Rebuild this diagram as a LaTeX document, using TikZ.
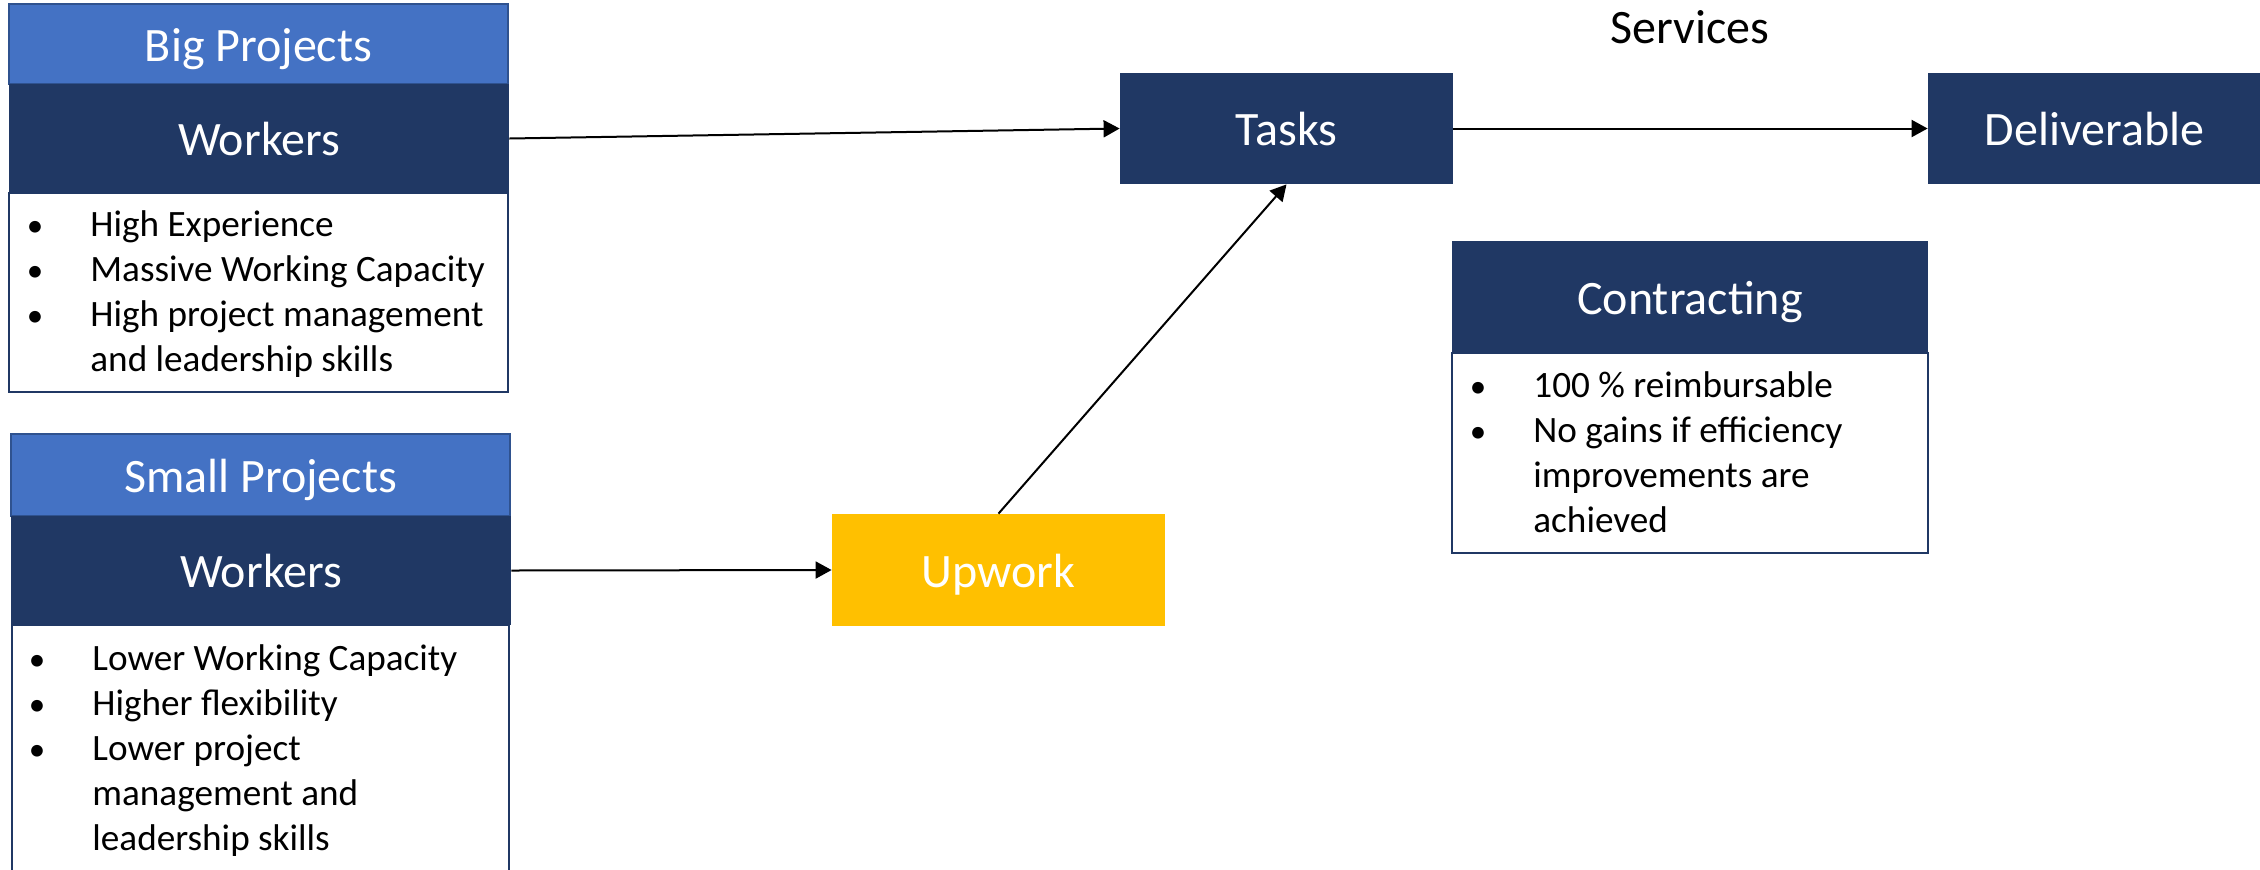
\documentclass[tikz,border=0pt]{standalone}
\usepackage{fontspec}
\setmainfont{Carlito}
\usetikzlibrary{arrows.meta}
\definecolor{lblue}{HTML}{4472C4}
\definecolor{lblueb}{HTML}{2F528F}
\definecolor{navy}{HTML}{203864}
\definecolor{gold}{HTML}{FFC000}
\tikzset{
  capc/.style={text height=17.2pt, text depth=0pt},
  headbox/.style={rectangle, fill=lblue, draw=lblueb, line width=0.6pt, inner sep=0pt, text=white, font=\fontsize{24}{28}\selectfont, capc},
  navybox/.style={rectangle, fill=navy, inner sep=0pt, text=white, font=\fontsize{24}{28}\selectfont, capc},
  goldbox/.style={rectangle, fill=gold, inner sep=0pt, text=white, font=\fontsize{24}{28}\selectfont, capc},
  listbox/.style={rectangle, fill=white, draw=navy, line width=0.7pt, inner sep=0pt},
  btxt/.style={anchor=base west, inner sep=0pt, font=\fontsize{18.6}{22}\selectfont},
  bdot/.style={anchor=base, inner sep=0pt, font=\fontsize{16.5}{22}\selectfont},
  conn/.style={line width=1pt, -{Triangle[length=8pt,width=8.5pt]}},
}
\begin{document}
\begin{tikzpicture}[x=0.5pt,y=-0.5pt]
\useasboundingbox (0,0) rectangle (2260,869);
\clip (0,0) rectangle (2260,869);
% Big projects group
\node[listbox, minimum width=249.5pt, minimum height=99.5pt] (bl) at (258.5,292.5) {};
\node[headbox, minimum width=249.5pt, minimum height=40pt] (bp) at (258.5,44) {Big Projects};
\node[navybox, minimum width=250pt, minimum height=54.5pt] (bw) at (259,138.5) {Workers};
\node[bdot] (b1d) at (35,236) {•};
\node[btxt] (b1) at (90,236) {High Experience};
\node[bdot] (b2d) at (35,281) {•};
\node[btxt] (b2) at (90,281) {Massive Working Capacity};
\node[bdot] (b3d) at (35,326) {•};
\node[btxt] (b3) at (90,326) {High project management};
\node[btxt] (b4) at (90,371) {and leadership skills};
% Small projects group
\node[listbox, minimum width=248.5pt, minimum height=140pt] (sl) at (260.5,765) {};
\node[headbox, minimum width=249.5pt, minimum height=41pt] (sp) at (260.5,475) {Small Projects};
\node[navybox, minimum width=250pt, minimum height=54.5pt] (sw) at (261,570.5) {Workers};
\node[bdot] (s1d) at (37,670) {•};
\node[btxt] (s1) at (92,670) {Lower Working Capacity};
\node[bdot] (s2d) at (37,715) {•};
\node[btxt] (s2) at (92,715) {Higher flexibility};
\node[bdot] (s3d) at (37,760) {•};
\node[btxt] (s3) at (92,760) {Lower project};
\node[btxt] (s4) at (92,805) {management and};
\node[btxt] (s5) at (92,850) {leadership skills};
% Upwork
\node[goldbox, minimum width=166.5pt, minimum height=56pt] (up) at (998.5,570) {Upwork};
% Tasks, deliverable
\node[navybox, minimum width=166.5pt, minimum height=55.5pt] (tasks) at (1286.5,128.5) {Tasks};
\node[navybox, minimum width=166.5pt, minimum height=55.5pt] (del) at (2094.5,128.5) {Deliverable};
\node[anchor=base, inner sep=0pt, font=\fontsize{24}{28}\selectfont] (serv) at (1690,43) {Services};
% Contracting
\node[listbox, minimum width=238pt, minimum height=100pt] (cl) at (1690,453) {};
\node[navybox, minimum width=238pt, minimum height=56pt] (ch) at (1690,297) {Contracting};
\node[bdot] (c1d) at (1478,397) {•};
\node[btxt] (c1) at (1533,397) {100 \% reimbursable};
\node[bdot] (c2d) at (1478,442) {•};
\node[btxt] (c2) at (1533,442) {No gains if efficiency};
\node[btxt] (c3) at (1533,487) {improvements are};
\node[btxt] (c4) at (1533,532) {achieved};
% connectors
\draw[conn] (bw.east) -- (tasks.west);
\draw[conn] (tasks.east) -- (del.west);
\draw[conn] (sw.east) -- (up.west);
\draw[conn] (up.north) -- (tasks.south);
\end{tikzpicture}
\end{document}
